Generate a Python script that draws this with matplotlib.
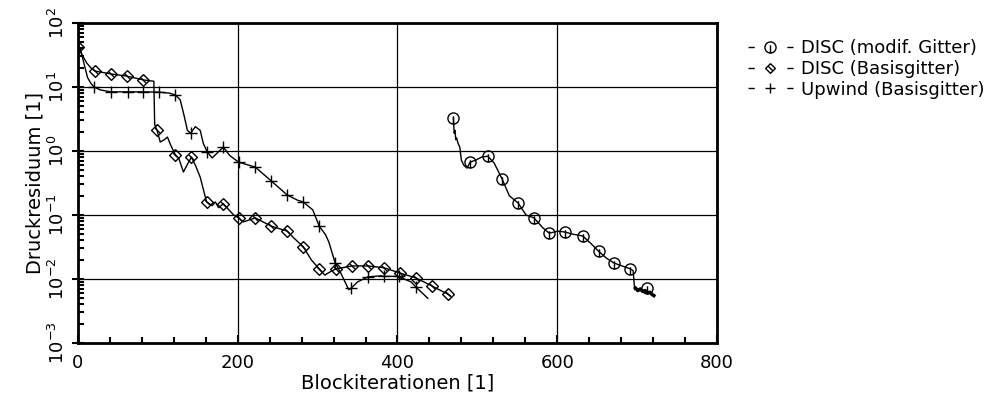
import numpy as np
import matplotlib
matplotlib.use('Agg')
from matplotlib import pyplot as plt
from matplotlib.path import Path
from matplotlib.lines import Line2D
from matplotlib.ticker import LogLocator, NullFormatter, MultipleLocator

# DISC (modif. Gitter) - curve and circle markers
modif_x = [470, 471, 472, 473, 474, 476, 478, 480, 483, 487, 491, 498, 505, 513, 521, 531,
           540, 551, 561, 571, 582, 590, 601, 610, 620, 632, 642, 652, 662, 671, 681, 691,
           695, 697, 698]
modif_y = [3.3, 1.9, 2.1, 1.5, 1.6, 1.3, 1.15, 0.72, 0.6, 0.54, 0.67, 0.72, 0.8, 0.83, 0.65,
           0.365, 0.2, 0.154, 0.1, 0.09, 0.063, 0.052, 0.056, 0.054, 0.05, 0.047, 0.036,
           0.027, 0.021, 0.0178, 0.016, 0.0145, 0.0135, 0.0068, 0.0072]
modif_tail_x = [698, 701, 704, 707, 710, 713, 716, 719, 721]
modif_tail_y = [0.0072, 0.0066, 0.0070, 0.0064, 0.0066, 0.0061, 0.0062, 0.0057, 0.0055]
modif_mx = [470, 491, 513, 531, 551, 571, 590, 610, 632, 652, 671, 691, 712]
modif_my = [3.3, 0.67, 0.83, 0.365, 0.154, 0.09, 0.052, 0.054, 0.047, 0.027, 0.0178,
            0.0145, 0.0072]

# DISC (Basisgitter) - curve and diamond markers
basis_x = [0, 5, 11, 16, 21, 41, 61, 82, 90, 95, 96, 99, 103, 108, 112, 116, 122, 126,
           132, 137, 142, 147, 153, 161, 168, 172, 176, 182, 189, 195, 201, 207, 222, 242,
           262, 270, 282, 292, 302, 309, 316, 323, 343, 363, 383, 403, 423, 443, 463, 466]
basis_y = [42, 32, 23.7, 20, 17.8, 16, 14.8, 12.9, 12.5, 12.3, 2.6, 2.1, 1.38, 1.5, 1.65,
           1.24, 0.87, 0.78, 0.47, 0.62, 0.8, 0.6, 0.39, 0.16, 0.14, 0.16, 0.13, 0.15,
           0.12, 0.1, 0.09, 0.078, 0.09, 0.067, 0.056, 0.044, 0.032, 0.02, 0.0144, 0.0115,
           0.013, 0.0144, 0.016, 0.016, 0.015, 0.0124, 0.0104, 0.0078, 0.0058, 0.0055]
basis_mx = [0, 21, 41, 61, 82, 99, 122, 142, 161, 182, 201, 222, 242, 262, 282, 302, 323,
            343, 363, 383, 403, 423, 443, 463]
basis_my = [42, 17.8, 16, 14.8, 12.9, 2.1, 0.87, 0.8, 0.16, 0.15, 0.09, 0.09, 0.067, 0.056,
            0.032, 0.0144, 0.0144, 0.016, 0.016, 0.015, 0.0124, 0.0104, 0.0078, 0.0058]

# Upwind (Basisgitter) - curve and plus markers
upwind_x = [0, 4, 8, 12, 16, 20, 28, 41, 62, 82, 102, 115, 122, 128, 133, 137, 141, 147,
            153, 157, 162, 168, 175, 182, 190, 201, 222, 242, 262, 275, 282, 294, 302, 310,
            314, 322, 329, 339, 342, 350, 363, 379, 383, 402, 410, 417, 423, 438]
upwind_y = [50, 35, 22, 14, 11.5, 10, 9.0, 8.4, 8.4, 8.4, 8.3, 8.0, 7.5, 6.3, 3.5, 2.1,
            1.9, 2.4, 2.1, 1.3, 0.96, 0.78, 0.95, 1.15, 0.85, 0.67, 0.56, 0.34, 0.205, 0.17,
            0.16, 0.12, 0.067, 0.049, 0.038, 0.0178, 0.0124, 0.0068, 0.0072, 0.009, 0.0108,
            0.0112, 0.011, 0.011, 0.0098, 0.009, 0.0075, 0.005]
upwind_mx = [20, 41, 62, 82, 102, 122, 141, 162, 182, 201, 222, 242, 262, 282, 302, 322,
             342, 363, 383, 402, 423]
upwind_my = [10, 8.4, 8.4, 8.4, 8.3, 7.5, 1.9, 0.96, 1.15, 0.67, 0.56, 0.34, 0.205, 0.16,
             0.067, 0.0178, 0.0072, 0.0108, 0.011, 0.011, 0.0075]

labels = ['DISC (modif. Gitter)', 'DISC (Basisgitter)', 'Upwind (Basisgitter)']

plt.rcParams['font.family'] = ['DejaVu Sans']
plt.rcParams['mathtext.fontset'] = 'dejavusans'

# Marker shapes: open circle / diamond with a stroke inside
circ = Path.make_compound_path(Path.unit_circle(),
                               Path([[0, -1], [0, 0.4]], [Path.MOVETO, Path.LINETO]))
diam = Path([[0, 1], [1, 0], [0, -1], [-1, 0], [0, 1], [-0.4, 0.4], [0.4, -0.4]],
            [Path.MOVETO, Path.LINETO, Path.LINETO, Path.LINETO, Path.LINETO,
             Path.MOVETO, Path.LINETO])

fig = plt.figure(figsize=(10.05, 4.0), dpi=100)
ax = fig.add_axes([0.0776, 0.1425, 0.6358, 0.8])

lk = dict(color='black', lw=1.0)
mk = dict(color='black', ls='none', mfc='none', mew=1.0)

ax.plot(modif_x, modif_y, **lk)
ax.plot(modif_tail_x, modif_tail_y, color='black', lw=2.5)
ax.plot(modif_mx, modif_my, marker=circ, ms=8, **mk)

ax.plot(basis_x, basis_y, **lk)
ax.plot(basis_mx, basis_my, marker=diam, ms=8.5, **mk)

ax.plot(upwind_x, upwind_y, **lk)
ax.plot(upwind_mx, upwind_my, marker='+', ms=8, **mk)

ax.set_yscale('log')
ax.set_xlim(0, 800)
ax.set_ylim(1e-3, 1e2)
ax.xaxis.set_major_locator(MultipleLocator(200))
ax.xaxis.set_minor_locator(MultipleLocator(40))
ax.yaxis.set_major_locator(LogLocator(base=10, numticks=10))
ax.yaxis.set_minor_locator(LogLocator(base=10, subs=np.arange(2, 10), numticks=10))
ax.yaxis.set_minor_formatter(NullFormatter())
ax.grid(True, which='major', color='black', lw=0.9)

for s in ax.spines.values():
    s.set_linewidth(2.0)
ax.tick_params(which='major', direction='inout', length=8, width=1.5, labelsize=13,
               top=False, right=False)
ax.tick_params(which='minor', direction='in', length=4, width=1.5, top=False, right=False)
ax.tick_params(axis='x', which='major', direction='in', length=6, pad=8)
ax.tick_params(axis='x', which='minor', length=4)
for t in ax.get_yticklabels():
    t.set_rotation(90)
    t.set_va('center')

ax.set_xlabel('Blockiterationen [1]', fontsize=14, labelpad=1)
ax.set_ylabel('Druckresiduum [1]', fontsize=14, labelpad=2)

dash = (0, (4.5, 23.5))
handles = [Line2D([], [], color='black', lw=1.0, ls=dash, marker=circ, ms=8, mfc='none'),
           Line2D([], [], color='black', lw=1.0, ls=dash, marker=diam, ms=7, mfc='none'),
           Line2D([], [], color='black', lw=1.0, ls=dash, marker='+', ms=7, mfc='none')]
fig.legend(handles, labels, loc='upper left', bbox_to_anchor=(0.737, 0.92),
           frameon=False, fontsize=13, handlelength=2.5, handletextpad=0.45,
           labelspacing=0.15, borderaxespad=0)

fig.savefig('out.png', dpi=100)
